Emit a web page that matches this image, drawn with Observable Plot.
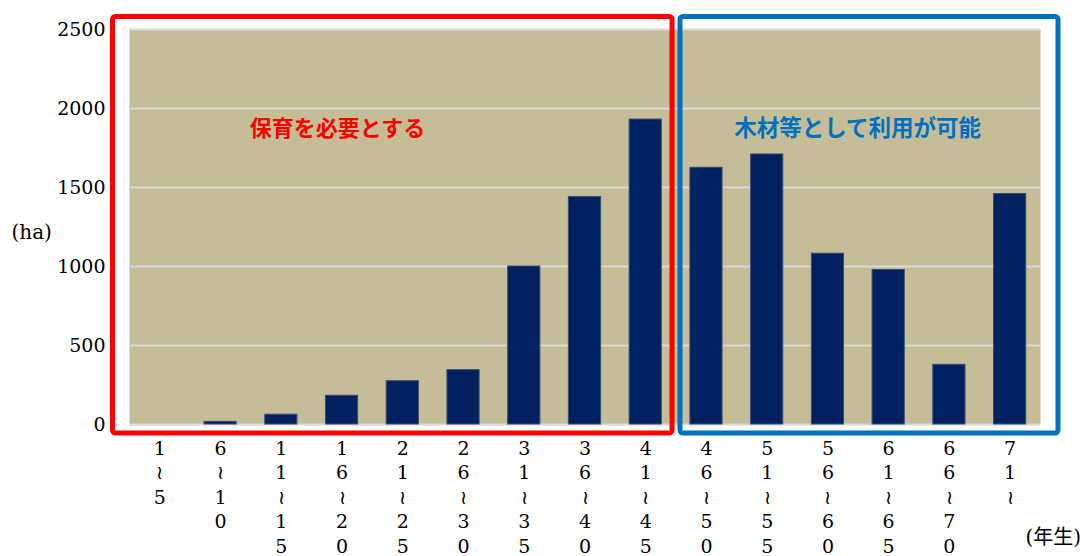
<!DOCTYPE html>
<html><head><meta charset="utf-8">
<script src="https://cdn.jsdelivr.net/npm/d3@7"></script>
<script src="https://cdn.jsdelivr.net/npm/@observablehq/plot@0.6"></script>
<style>
body{margin:0;background:#fff;}
#chart svg{display:block;}
</style></head><body><div id="chart"></div>
<script>
const categories = ["1〜5","6〜10","11〜15","16〜20","21〜25","26〜30","31〜35","36〜40","41〜45","46〜50","51〜55","56〜60","61〜65","66〜70","71〜"];
const areas = [0,17,62,182,274,344,1000,1440,1930,1625,1709,1081,978,378,1459];
const yTicks = [0,500,1000,1500,2000,2500];
const groupLabels = ["保育を必要とする","木材等として利用が可能"];
const groupFirst = [0,9];
const groupLast = [8,14];
const groupColors = ["#ff0000","#0070c0"];
const yUnit = "(ha)";
const xUnit = "(年生)";

const data = categories.map((c,i)=>({i, c, v: areas[i]}));
const groups = groupLabels.map((label,k)=>({label, first: groupFirst[k], last: groupLast[k], color: groupColors[k]}));
const half = 0.265;
const serif = "DejaVu Serif, Noto Sans CJK JP, serif";
const sans = "Noto Sans CJK JP, sans-serif";
// vertical (縦書き) rendering of a category label: one character per line, 〜 shown in its vertical form
const vertical = s => Array.from(s).map(ch => ch === "〜" ? "≀" : ch).join("\n");

const chart = Plot.plot({
  width: 1091,
  height: 556,
  marginLeft: 129,
  marginRight: 51,
  marginTop: 29,
  marginBottom: 132,
  style: {fontSize: "19px", color: "#000", background: "#fff"},
  x: {type: "linear", domain: [-0.5, 14.5], axis: null},
  y: {domain: [0, 2500], axis: null},
  marks: [
    Plot.frame({fill: "#c4bd97", stroke: null}),
    Plot.gridY(yTicks, {stroke: "#d9d9d9", strokeOpacity: 1, strokeWidth: 2}),
    Plot.rectY(data, {x1: d => d.i - half, x2: d => d.i + half, y: "v", fill: "#002060", stroke: "#3d4e6e", strokeWidth: 1}),
    Plot.axisY(yTicks, {tickSize: 0, tickPadding: 24, fontSize: 19, fontFamily: serif, label: null, tickFormat: d => String(d)}),
    Plot.text(data, {x: "i", text: d => vertical(d.c), frameAnchor: "bottom", dy: 13, lineAnchor: "top", lineHeight: 1.29, fontSize: 19, fontFamily: serif, fill: "#000"}),
    Plot.rect(groups.slice(0,1), {x1: d => d.first - 0.5, x2: d => d.last + 0.5, y1: 0, y2: 2500, fill: "none", stroke: "color", strokeWidth: 5, rx: 3, insetLeft: -16.5, insetRight: 3.6, insetTop: -12.5, insetBottom: -9}),
    Plot.rect(groups.slice(1,2), {x1: d => d.first - 0.5, x2: d => d.last + 0.5, y1: 0, y2: 2500, fill: "none", stroke: "color", strokeWidth: 5, rx: 3, insetLeft: 4.4, insetRight: -18, insetTop: -12.5, insetBottom: -9}),
    Plot.text(groups.slice(0,1), {x: 2.925, y: 1870, text: "label", fill: "color", fontSize: 22, fontWeight: "bold", fontFamily: sans}),
    Plot.text(groups.slice(1,2), {x: 11.49, y: 1870, text: "label", fill: "color", fontSize: 22.5, fontWeight: "bold", fontFamily: sans}),
    Plot.text([yUnit], {frameAnchor: "left", dx: -118, dy: 6, textAnchor: "start", fontSize: 20, fontFamily: serif, fill: "#000"}),
    Plot.text([xUnit], {frameAnchor: "bottom-right", dx: -15, dy: 119, textAnchor: "start", fontSize: 20, fontFamily: serif, fill: "#000"})
  ]
});
document.getElementById("chart").append(chart);
</script>
</body></html>
